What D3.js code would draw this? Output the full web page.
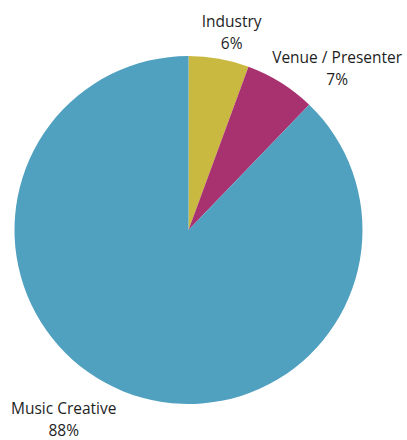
<!DOCTYPE html>
<html>
<head>
<meta charset="utf-8">
<script src="https://cdn.jsdelivr.net/npm/d3@7"></script>
<style>
  html, body { margin: 0; padding: 0; background: #fff; }
  svg { display: block; }
  .lbl { font-family: "Open Sans", "Noto Sans", sans-serif; font-size: 15.5px; font-weight: 500; fill: #1e1e1e; }
</style>
</head>
<body>
<svg id="chart" width="407" height="440"></svg>
<script>
// Share of respondents by sector (percent)
const categories = ["Industry", "Venue / Presenter", "Music Creative"];
const values = [5.6, 6.6, 87.8];
const colors = ["#c9b940", "#a8326f", "#50a0bf"];

// Label nudges (px) relative to the point just outside each slice's mid-angle
const labelNudge = {
  "Industry": [11, -22],
  "Venue / Presenter": [51, -11],
  "Music Creative": [-56, 13]
};

const width = 407, height = 440;
const cx = 188.5, cy = 230, radius = 174;

const data = categories.map((c, i) => ({ category: c, value: values[i], color: colors[i] }));

const svg = d3.select("#chart");
const g = svg.append("g").attr("transform", `translate(${cx},${cy})`);

const pie = d3.pie().sort(null).value(d => d.value);
const arcs = pie(data);

const arc = d3.arc().innerRadius(0).outerRadius(radius);

g.selectAll("path.slice")
  .data(arcs)
  .join("path")
  .attr("class", "slice")
  .attr("d", arc)
  .attr("fill", d => d.data.color);

// Point just outside the rim at each slice's mid-angle
const rim = radius + 10;
const fmt = v => Math.round(v) + "%";

const labels = g.selectAll("text.lbl")
  .data(arcs)
  .join("text")
  .attr("class", "lbl")
  .attr("text-anchor", "middle")
  .attr("transform", d => {
    const a = (d.startAngle + d.endAngle) / 2;
    const [nx, ny] = labelNudge[d.data.category];
    const x = Math.sin(a) * rim + nx;
    const y = -Math.cos(a) * rim + ny;
    return `translate(${x},${y})`;
  });

labels.append("tspan")
  .attr("x", 0)
  .attr("y", 0)
  .text(d => d.data.category);

labels.append("tspan")
  .attr("x", 0)
  .attr("y", 22)
  .text(d => fmt(d.data.value));
</script>
</body>
</html>
